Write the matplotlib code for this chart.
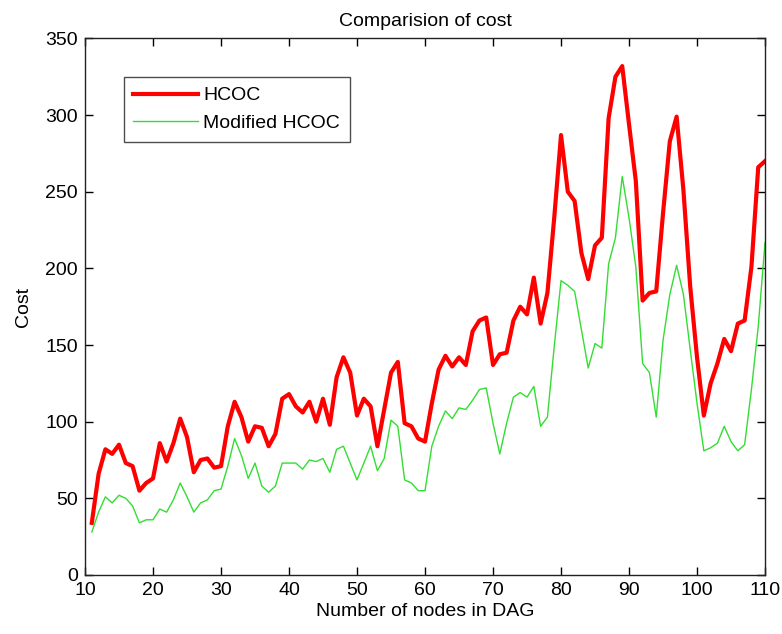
import numpy as np
import matplotlib
matplotlib.use('Agg')
import matplotlib.pyplot as plt

plt.rcParams['font.family'] = ['Liberation Sans', 'DejaVu Sans']

nodes = np.arange(11, 111)

hcoc = [34, 66, 82, 79, 85, 73, 71, 55, 60, 63,
        86, 74, 86, 102, 90, 67, 75, 76, 70, 71,
        97, 113, 103, 87, 97, 96, 84, 92, 115, 118,
        110, 106, 113, 100, 115, 98, 129, 142, 132, 104,
        115, 110, 84, 108, 132, 139, 99, 97, 89, 87,
        112, 134, 143, 136, 142, 137, 159, 166, 168, 137,
        144, 145, 166, 175, 170, 194, 164, 184, 233, 287,
        250, 244, 210, 193, 215, 220, 298, 325, 332, 294,
        257, 179, 184, 185, 236, 283, 299, 251, 188, 142,
        104, 125, 138, 154, 146, 164, 166, 201, 266, 270]

modified = [28, 41, 51, 47, 52, 50, 45, 34, 36, 36,
            43, 41, 49, 60, 51, 41, 47, 49, 55, 56,
            71, 89, 78, 63, 73, 58, 54, 58, 73, 73,
            73, 69, 75, 74, 76, 67, 82, 84, 73, 62,
            73, 84, 68, 76, 101, 97, 62, 60, 55, 55,
            84, 97, 107, 102, 109, 108, 114, 121, 122, 99,
            79, 99, 116, 119, 116, 123, 97, 103, 149, 192,
            189, 185, 160, 135, 151, 148, 203, 220, 260, 233,
            201, 138, 132, 103, 153, 183, 202, 183, 147, 112,
            81, 83, 86, 97, 87, 81, 85, 121, 162, 217]

fig = plt.figure(figsize=(7.82, 6.34), dpi=100)
ax = fig.add_axes([0.1087, 0.0931, 0.8696, 0.8462])

ax.plot(nodes, hcoc, color='#ff0000', linewidth=3.0, label='HCOC')
ax.plot(nodes, modified, color='#33dd33', linewidth=1.0, label='Modified HCOC')

ax.set_xlim(10, 110)
ax.set_ylim(0, 350)
ax.set_xticks(np.arange(10, 111, 10))
ax.set_yticks(np.arange(0, 351, 50))
ax.tick_params(direction='in', top=True, right=True, length=6, width=1,
               labelsize=14, pad=5)
for s in ax.spines.values():
    s.set_linewidth(1.0)
    s.set_color('#222222')

ax.set_title('Comparision of cost', fontsize=14, pad=9)
ax.set_xlabel('Number of nodes in DAG', fontsize=14, labelpad=3)
ax.set_ylabel('Cost', fontsize=14, labelpad=10)

leg = ax.legend(loc='upper left', bbox_to_anchor=(0.057, 0.928), fontsize=14,
                frameon=True, fancybox=False, handlelength=3.3,
                borderpad=0.5, labelspacing=0.5, handletextpad=0.3,
                borderaxespad=0)
leg.get_frame().set_edgecolor('#222222')
leg.get_frame().set_linewidth(1.0)

fig.savefig('out.png', dpi=100)
